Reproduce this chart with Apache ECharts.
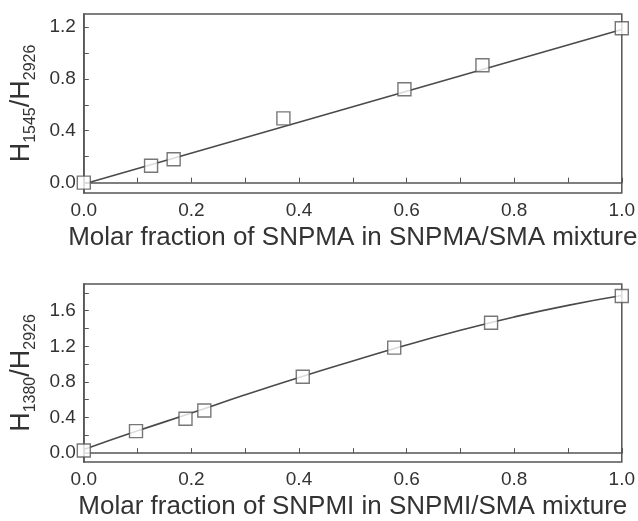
<!DOCTYPE html>
<html>
<head>
<meta charset="utf-8">
<script src="https://cdn.jsdelivr.net/npm/echarts@6/dist/echarts.min.js"></script>
<style>
  html, body { margin: 0; padding: 0; background: #fff; }
  #chart { width: 638px; height: 521px; }
</style>
</head>
<body>
<div id="chart"></div>
<script>
// top panel: SNPMA
const topX = [0, 0.125, 0.167, 0.371, 0.596, 0.741, 1.0]
const topY = [0.0, 0.13, 0.18, 0.495, 0.72, 0.905, 1.19]
const topFitX = [0, 1]
const topFitY = [-0.01, 1.18]

// bottom panel: SNPMI
const botX = [0, 0.097, 0.189, 0.224, 0.407, 0.577, 0.757, 1.0]
const botY = [0.03, 0.247, 0.386, 0.479, 0.858, 1.185, 1.465, 1.766]
const botFitX = [0, 0.1, 0.2, 0.3, 0.4, 0.5, 0.6, 0.7, 0.8, 0.9, 1.0]
const botFitY = [0.04, 0.25, 0.45, 0.655, 0.85, 1.035, 1.215, 1.38, 1.53, 1.66, 1.77]

// ticks
const xLabels = [0, 0.2, 0.4, 0.6, 0.8, 1.0]
const xTicks = [0, 0.1, 0.2, 0.3, 0.4, 0.5, 0.6, 0.7, 0.8, 0.9, 1.0]
const topYLabels = [0, 0.4, 0.8, 1.2]
const topYTicks = [0, 0.2, 0.4, 0.6, 0.8, 1.0, 1.2]
const botYLabels = [0, 0.4, 0.8, 1.2, 1.6]
const botYTicks = [0, 0.2, 0.4, 0.6, 0.8, 1.0, 1.2, 1.4, 1.6, 1.8]

const fontFamily = '"Liberation Sans", Arial, sans-serif'
const frameColor = '#555'
const textColor = '#333'

const pair = (xs, ys) => xs.map((x, i) => [x, ys[i]])

function xAxisOpt(gridIndex, title) {
  return {
    type: 'value',
    gridIndex: gridIndex,
    min: 0,
    max: 1,
    name: title,
    nameLocation: 'middle',
    nameGap: 32,
    nameTextStyle: { fontSize: 26, color: textColor, fontFamily: fontFamily },
    axisLine: { show: true, lineStyle: { color: frameColor, width: 1.5 } },
    axisTick: { show: true, inside: true, length: 5, customValues: xTicks, lineStyle: { color: frameColor } },
    axisLabel: {
      customValues: xLabels,
      fontSize: 19,
      color: textColor,
      fontFamily: fontFamily,
      margin: 8,
      formatter: v => v.toFixed(1)
    },
    splitLine: { show: false }
  }
}

function yAxisOpt(gridIndex, min, max, labels, ticks, sub) {
  return {
    type: 'value',
    gridIndex: gridIndex,
    min: min,
    max: max,
    name: '{h|H}{s|' + sub + '}{h|/H}{s|2926}',
    nameLocation: 'middle',
    nameRotate: 90,
    nameGap: 36,
    nameTextStyle: {
      color: textColor,
      fontFamily: fontFamily,
      rich: {
        h: { fontSize: 27, lineHeight: 34, color: textColor, fontFamily: fontFamily },
        s: { fontSize: 16, lineHeight: 16, verticalAlign: 'bottom', color: textColor, fontFamily: fontFamily }
      }
    },
    axisLine: { show: true, lineStyle: { color: frameColor, width: 1.5 } },
    axisTick: { show: true, inside: true, length: 5, customValues: ticks, lineStyle: { color: frameColor } },
    axisLabel: {
      customValues: labels,
      fontSize: 19,
      color: textColor,
      fontFamily: fontFamily,
      margin: 8,
      formatter: v => v.toFixed(1)
    },
    splitLine: { show: false }
  }
}

function fitSeries(idx, data, smooth) {
  return {
    type: 'line',
    xAxisIndex: idx,
    yAxisIndex: idx,
    data: data,
    smooth: smooth,
    showSymbol: false,
    lineStyle: { color: '#4a4a4a', width: 1.6 },
    animation: false,
    z: 2
  }
}

function pointSeries(idx, data) {
  return {
    type: 'scatter',
    xAxisIndex: idx,
    yAxisIndex: idx,
    data: data,
    symbol: 'rect',
    symbolSize: 13,
    itemStyle: { color: '#fff', borderColor: '#555', borderWidth: 1.4 },
    animation: false,
    z: 3
  }
}

const chart = echarts.init(document.getElementById('chart'), null, { renderer: 'canvas' })

chart.setOption({
  backgroundColor: '#fff',
  grid: [
    { left: 79, right: 14, top: 14, height: 179, show: true, borderColor: frameColor, borderWidth: 1.5 },
    { left: 79, right: 14, top: 284, height: 182, show: true, borderColor: frameColor, borderWidth: 1.5 }
  ],
  xAxis: [
    xAxisOpt(0, 'Molar fraction of SNPMA in SNPMA/SMA mixture'),
    xAxisOpt(1, 'Molar fraction of SNPMI in SNPMI/SMA mixture')
  ],
  yAxis: [
    yAxisOpt(0, -0.08, 1.3, topYLabels, topYTicks, '1545'),
    yAxisOpt(1, -0.1, 1.9, botYLabels, botYTicks, '1380')
  ],
  series: [
    fitSeries(0, pair(topFitX, topFitY), false),
    pointSeries(0, pair(topX, topY)),
    fitSeries(1, pair(botFitX, botFitY), true),
    pointSeries(1, pair(botX, botY))
  ]
})
</script>
</body>
</html>
